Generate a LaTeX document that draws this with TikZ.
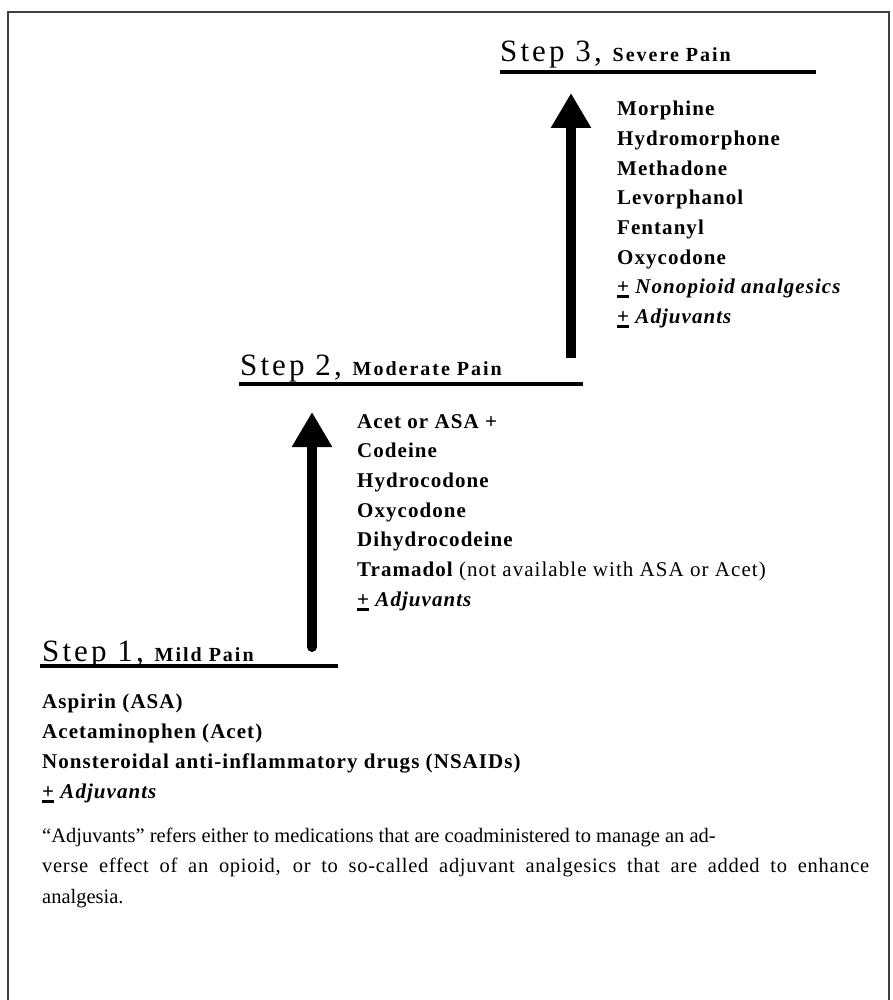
\documentclass[tikz,border=0pt]{standalone}
\usepackage{fontspec}
\setmainfont{Liberation Serif}
\newfontfamily\titlefont{Liberation Serif}[LetterSpace=10]
\newfontfamily\drugfont{Liberation Serif}[LetterSpace=5]
\newfontfamily\notewide{Liberation Serif}[LetterSpace=3.5]
\usetikzlibrary{arrows.meta}
\newcommand\plusbar{\leavevmode\rlap{\rule[-4.5pt]{0.56em}{3pt}}+}

\tikzset{
  steptitle/.style={anchor=base west,inner sep=0pt,font=\titlefont\fontsize{31}{31}\selectfont},
  drug/.style={anchor=base west,inner sep=0pt,font=\drugfont\bfseries\fontsize{21}{21}\selectfont},
  noteline/.style={anchor=base west,inner sep=0pt,font=\fontsize{20.5}{20.5}\selectfont},
  steprule/.style={line width=4pt},
  uparrow/.style={line width=10pt,-{Triangle[length=35pt,width=38pt]}},
}
\newcommand\painlevel[1]{{\fontsize{20}{20}\selectfont\bfseries #1}}

\begin{document}
\begin{tikzpicture}[x=1pt,y=-1pt]
  \useasboundingbox (0,0) rectangle (893,1000);
  \draw[line width=2pt,black!75] (8,1001) -- (8,12) -- (889,12) -- (889,1001);

  % step 3
  \node[steptitle] (t3) at (500,62) {Step 3, \painlevel{Severe Pain}};
  \draw[steprule] (t3.base west) ++(0,10) -- ++(316,0);
  \foreach \d [count=\i] in {Morphine,Hydromorphone,Methadone,Levorphanol,Fentanyl,Oxycodone,
      {\plusbar\ \textit{Nonopioid analgesics}},{\plusbar\ \textit{Adjuvants}}}
    \node[drug] (s3-\i) at (617,{116+29.6*(\i-1)}) {\d};
  \coordinate (a3bot) at (571,358);
  \coordinate (a3top) at (571,93);
  \draw[uparrow] (a3bot) -- (a3top);

  % step 2
  \node[steptitle] (t2) at (240,375) {Step 2, \painlevel{Moderate Pain}};
  \draw[steprule] (t2.base west) ++(-1,9) -- ++(344,0);
  \foreach \d [count=\i] in {Acet or ASA +,Codeine,Hydrocodone,Oxycodone,Dihydrocodeine,
      {Tramadol \mdseries(not available with ASA or Acet)},{\plusbar\ \textit{Adjuvants}}}
    \node[drug] (s2-\i) at (357,{428+29.7*(\i-1)}) {\d};
  \coordinate (a2bot) at (312,647);
  \coordinate (a2top) at (312,412);
  \draw[uparrow,line cap=round] (a2bot) -- (a2top);

  % step 1
  \node[steptitle] (t1) at (42,661) {Step 1, \painlevel{Mild Pain}};
  \draw[steprule] (t1.base west) ++(-2,5) -- ++(298,0);
  \foreach \d [count=\i] in {Aspirin (ASA),Acetaminophen (Acet),
      Nonsteroidal anti-inflammatory drugs (NSAIDs),{\plusbar\ \textit{Adjuvants}}}
    \node[drug] (s1-\i) at (42,{708+30.3*(\i-1)}) {\d};

  % note
  \node[noteline] (n1) at (42,842)
    {``Adjuvants'' refers either to medications that are coadministered to manage an ad-};
  \node[noteline,font=\notewide\fontsize{20.5}{20.5}\selectfont] (n2) at (42,872.5)
    {\makebox[827pt][s]{verse effect of an opioid, or to so-called adjuvant analgesics that are added to enhance}};
  \node[noteline] (n3) at (42,903) {analgesia.};
\end{tikzpicture}
\end{document}
